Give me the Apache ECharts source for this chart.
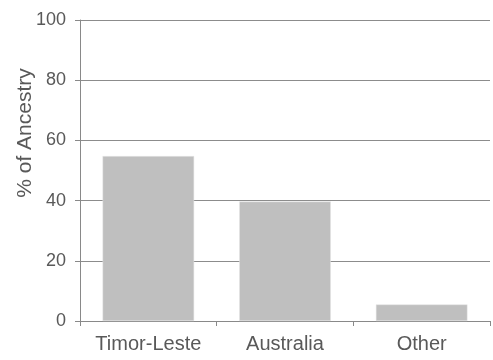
<!DOCTYPE html>
<html><head><meta charset="utf-8">
<script src="https://cdn.jsdelivr.net/npm/echarts@6/dist/echarts.min.js"></script>
<style>html,body{margin:0;padding:0;background:#fff}#c{width:493px;height:360px}</style>
</head><body><div id="c"></div>
<script>
const categories = ["Timor-Leste", "Australia", "Other"];
const values = [54.8, 39.7, 5.5];
const yTicks = [0, 20, 40, 60, 80, 100];
const yTitle = "% of Ancestry";

const chart = echarts.init(document.getElementById('c'), null, {renderer: 'canvas'});
chart.setOption({
  animation: false,
  grid: {left: 80, right: 3, top: 20, bottom: 39, containLabel: false},
  xAxis: {
    type: 'category', data: categories,
    axisLine: {lineStyle: {color: '#898989', width: 1}},
    axisTick: {show: true, interval: 0, alignWithLabel: false, length: 5, lineStyle: {color: '#898989'}},
    axisLabel: {interval: 0, hideOverlap: false, color: '#595959', fontFamily: 'Liberation Sans', fontSize: 20, margin: 13}
  },
  yAxis: {
    type: 'value', min: yTicks[0], max: yTicks[yTicks.length - 1], interval: 20,
    axisLine: {show: true, lineStyle: {color: '#898989', width: 1}},
    axisTick: {show: true, length: 5, lineStyle: {color: '#898989'}},
    axisLabel: {color: '#595959', fontFamily: 'Liberation Sans', fontSize: 18, margin: 14},
    splitLine: {show: true, lineStyle: {color: '#8c8c8c', width: 1}}
  },
  graphic: [{
    type: 'text', x: 25, y: 133, rotation: Math.PI / 2,
    style: {text: yTitle, fill: '#595959', font: '21px "Liberation Sans"', align: 'center', verticalAlign: 'middle'}
  }],
  series: [{
    type: 'bar', data: values, barCategoryGap: '33%',
    itemStyle: {color: '#bfbfbf', borderColor: '#e6e6e6', borderWidth: 0.5}
  }]
});
</script></body></html>
